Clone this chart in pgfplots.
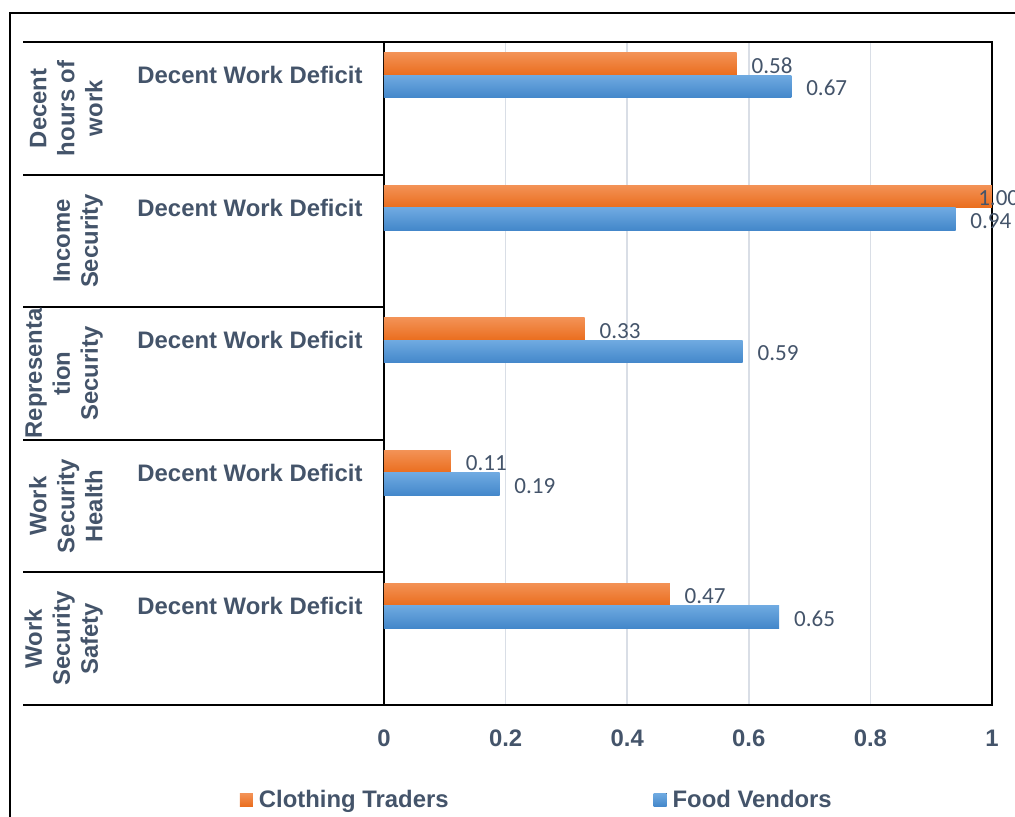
\documentclass[border=0pt]{standalone}
\usepackage{fontspec}
\setmainfont{Liberation Sans}
\newfontfamily\valuefont{Carlito}
\usepackage{pgfplots}
\pgfplotsset{compat=1.18}

\definecolor{txt}{HTML}{44546A}
\definecolor{gridc}{HTML}{D9DEE6}
\definecolor{orTop}{HTML}{F39256}
\definecolor{orBot}{HTML}{EA6D1D}
\definecolor{blTop}{HTML}{6FAAE1}
\definecolor{blBot}{HTML}{4387CA}

\tikzset{catfont/.style={font=\fontsize{17.9}{21}\selectfont\bfseries, text=txt}}
\pgfplotsset{
  clothing/.style={xbar, bar shift=0pt, draw=none, top color=orTop, bottom color=orBot},
  food/.style={xbar, bar shift=0pt, draw=none, top color=blTop, bottom color=blBot},
}

\begin{document}
\begin{tikzpicture}
\useasboundingbox (-288pt,-84pt) rectangle (473.25pt,528.75pt);
\begin{axis}[
  scale only axis, width=456pt, height=497.25pt,
  xmin=0, xmax=1, ymin=0, ymax=10,
  enlargelimits=false,
  axis line style={black, line width=1.5pt},
  xtick={0,0.2,0.4,0.6,0.8,1},
  ytick=\empty,
  major tick length=0pt,
  xmajorgrids, grid style={gridc, line width=1.2pt},
  /pgf/number format/assume math mode=true,
  xticklabel style={font=\fontsize{17.9}{20}\selectfont\bfseries, text=txt,
    inner sep=0pt, anchor=north, yshift=-18.4pt},
  bar width=0.34,
  point meta=x,
  nodes near coords={\pgfmathprintnumber[fixed,fixed zerofill,precision=2,assume math mode=true]{\pgfplotspointmeta}},
  every node near coord/.append style={font=\valuefont\fontsize{17.3}{20}\selectfont,
    text=txt, anchor=west, inner sep=0pt, xshift=11pt, yshift=-1.3pt},
  clip=false,
  legend columns=2,
  legend style={
    at={([xshift=-108pt,yshift=-71.25pt]axis description cs:0,0)}, anchor=west,
    draw=none, fill=none, inner sep=0pt, outer sep=0pt,
    font=\fontsize{17.9}{20}\selectfont\bfseries, text=txt,
    nodes={inner sep=0pt},
    /tikz/every odd column/.append style={column sep=4.5pt},
    /tikz/every even column/.append style={column sep=153.75pt},
  },
  legend image code/.code={\fill[#1] (0pt,-4.875pt) rectangle (9.75pt,4.875pt);},
]
% Clothing Traders (upper bar of each pair), Food Vendors (lower bar)
\addplot[clothing] coordinates {(0.58,9.67)};
\addlegendentry{Clothing Traders}
\addplot[food] coordinates {(0.67,9.33)};
\addlegendentry{Food Vendors}
\addplot[clothing, forget plot, every node near coord/.append style={xshift=-21.5pt}]
  coordinates {(1.00,7.67)};
\addplot[food, forget plot] coordinates {(0.94,7.33)};
\addplot[clothing, forget plot] coordinates {(0.33,5.67)};
\addplot[food, forget plot] coordinates {(0.59,5.33)};
\addplot[clothing, forget plot] coordinates {(0.11,3.67)};
\addplot[food, forget plot] coordinates {(0.19,3.33)};
\addplot[clothing, forget plot] coordinates {(0.47,1.67)};
\addplot[food, forget plot] coordinates {(0.65,1.33)};

% category separators of the two-level axis
\draw[black, line width=1.5pt] (axis cs:0,10) -- ++(-270.75pt,0);
\draw[black, line width=1.5pt] (axis cs:0,8) -- ++(-270.75pt,0);
\draw[black, line width=1.5pt] (axis cs:0,6) -- ++(-270.75pt,0);
\draw[black, line width=1.5pt] (axis cs:0,4) -- ++(-270.75pt,0);
\draw[black, line width=1.5pt] (axis cs:0,2) -- ++(-270.75pt,0);
\draw[black, line width=1.5pt] (axis cs:0,0) -- ++(-270.75pt,0);

% inner category level
\node[catfont] at ([xshift=-100.5pt]axis cs:0,9.5) {Decent Work Deficit};
\node[catfont] at ([xshift=-100.5pt]axis cs:0,7.5) {Decent Work Deficit};
\node[catfont] at ([xshift=-100.5pt]axis cs:0,5.5) {Decent Work Deficit};
\node[catfont] at ([xshift=-100.5pt]axis cs:0,3.5) {Decent Work Deficit};
\node[catfont] at ([xshift=-100.5pt]axis cs:0,1.5) {Decent Work Deficit};

% outer category level
\node[catfont, rotate=90, anchor=south, align=center, inner sep=0pt]
  at ([xshift=-210.75pt]axis cs:0,9) {Decent\\hours of\\work};
\node[catfont, rotate=90, anchor=south, align=center, inner sep=0pt]
  at ([xshift=-210.75pt]axis cs:0,7) {Income\\Security};
\node[catfont, rotate=90, anchor=south, align=center, inner sep=0pt]
  at ([xshift=-210.75pt]axis cs:0,5) {Representa\\tion\\Security};
\node[catfont, rotate=90, anchor=south, align=center, inner sep=0pt]
  at ([xshift=-210.75pt]axis cs:0,3) {Work\\Security\\Health};
\node[catfont, rotate=90, anchor=south, align=center, inner sep=0pt]
  at ([xshift=-210.75pt]axis cs:0,1) {Work\\Security\\Safety};
\end{axis}
% chart frame
\draw[black, line width=1.6pt] (-280.5pt,-100pt) -- (-280.5pt,519pt) -- (490pt,519pt);
\end{tikzpicture}
\end{document}
